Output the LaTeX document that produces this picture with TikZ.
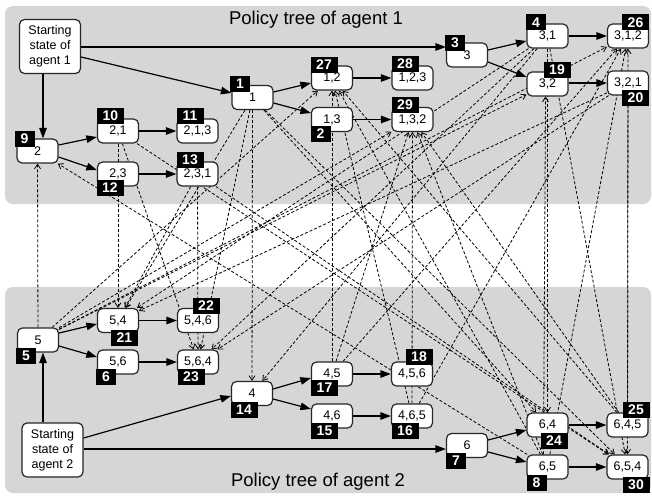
\documentclass[tikz,border=0pt]{standalone}
\usepackage{fontspec}
\setmainfont{Liberation Sans}
\usetikzlibrary{arrows.meta}
\pgfdeclarelayer{panel}
\pgfdeclarelayer{links}
\pgfsetlayers{panel,links,main}
\definecolor{panelgray}{RGB}{214,214,214}
\tikzset{
  st/.style={draw=black!85, fill=white, rounded corners=5pt, minimum width=41pt, minimum height=24pt, inner sep=0pt, line width=1.2pt, font=\fontsize{12.5}{14}\selectfont},
  startbox/.style={st, minimum width=61pt, minimum height=54pt, align=center, font=\fontsize{12.5}{15}\selectfont},
  tag/.style={fill=black, text=white, font=\fontsize{14}{14}\selectfont\bfseries, inner sep=0pt, minimum height=16pt, minimum width=27pt},
  tagone/.style={tag, minimum width=20pt},
  sol/.style={line width=1.2pt, -{Triangle[length=10.5pt,width=7.5pt]}},
  dep/.style={line width=0.8pt, dash pattern=on 3pt off 2pt, -{Straight Barb[length=4.5pt,width=6pt]}},
  panelbox/.style={fill=panelgray, rounded corners=8pt},
  ttl/.style={font=\fontsize{18.5}{20}\selectfont, anchor=base}
}
\begin{document}
\begin{tikzpicture}[x=1pt,y=-1pt]
\useasboundingbox (0,0) rectangle (652,495);
% ---------- agent 1 ----------
\node[startbox] (start1) at (50,46.5) {Starting\\state of\\agent 1};
\node[st] (n1)  at (252.5,97.5) {1};
\node[st] (n9)  at (37.5,151) {2};
\node[st] (n10) at (118,131) {2,1};
\node[st] (n11) at (197.5,131) {2,1,3};
\node[st] (n12) at (118,174) {2,3};
\node[st] (n13) at (197.5,174) {2,3,1};
\node[st] (n27) at (332,78) {1,2};
\node[st] (n2)  at (332,119.5) {1,3};
\node[st] (n28) at (412.5,78) {1,2,3};
\node[st] (n29) at (412.5,119.5) {1,3,2};
\node[st] (n3)  at (467,55) {3};
\node[st] (n4)  at (547.5,36) {3,1};
\node[st] (n19) at (547.5,84) {3,2};
\node[st] (n26) at (628,36) {3,1,2};
\node[st] (n20) at (628,83) {3,2,1};
% ---------- agent 2 ----------
\node[startbox] (start2) at (52.5,450) {Starting\\state of\\agent 2};
\node[st] (n5)  at (38,340) {5};
\node[st] (n21) at (118,320.5) {5,4};
\node[st] (n6)  at (118,362) {5,6};
\node[st] (n22) at (198,320.5) {5,4,6};
\node[st] (n23) at (198,362) {5,6,4};
\node[st] (n14) at (252,393.5) {4};
\node[st] (n17) at (332,374) {4,5};
\node[st] (n15) at (332,416) {4,6};
\node[st] (n18) at (412,374) {4,5,6};
\node[st] (n16) at (412,416) {4,6,5};
\node[st] (n7)  at (467,445.5) {6};
\node[st] (n24) at (547.5,425) {6,4};
\node[st] (n8)  at (547.5,467) {6,5};
\node[st] (n25) at (627.5,425) {6,4,5};
\node[st] (n30) at (627.5,467) {6,5,4};
% ---------- tags ----------
\node[tagone] (t1)  at (240,84) {1};
\node[tagone] (t9)  at (24.5,138.5) {9};
\node[tag] (t10) at (110.5,116) {10};
\node[tag] (t11) at (190,116) {11};
\node[tag] (t12) at (110,187.5) {12};
\node[tag] (t13) at (190,159.5) {13};
\node[tag] (t27) at (324,64.5) {27};
\node[tagone] (t2)  at (320.5,134) {2};
\node[tag] (t28) at (405,63.5) {28};
\node[tag] (t29) at (405,105) {29};
\node[tagone] (t3)  at (455,43) {3};
\node[tagone] (t4)  at (536,22.5) {4};
\node[tag] (t19) at (557,70) {19};
\node[tag] (t26) at (635.5,22.5) {26};
\node[tag] (t20) at (635.5,98) {20};
\node[tagone] (t5)  at (26,355.5) {5};
\node[tag] (t21) at (124.5,337.5) {21};
\node[tagone] (t6)  at (106,377) {6};
\node[tag] (t22) at (206,305.5) {22};
\node[tag] (t23) at (191,377) {23};
\node[tag] (t14) at (244,409.5) {14};
\node[tag] (t17) at (324.5,388) {17};
\node[tag] (t15) at (324.5,431) {15};
\node[tag] (t18) at (419,357) {18};
\node[tag] (t16) at (405,431) {16};
\node[tagone] (t7)  at (456,461) {7};
\node[tag] (t24) at (554,441) {24};
\node[tagone] (t8)  at (536.5,482.5) {8};
\node[tag] (t25) at (636,409.5) {25};
\node[tag] (t30) at (636,484.5) {30};
% ---------- solid edges agent 1 ----------
\draw[sol] (start1.east |- 0,47) -- (n3.west |- 0,47);
\draw[sol] (start1.east |- 0,57) -- (n1.west |- 0,93);
\draw[sol] (start1.south -| 43,0) -- (n9.north -| 43,0);
\draw[sol] (n9.east |- 0,145) -- (n10.west |- 0,137);
\draw[sol] (n9.east |- 0,157) -- (n12.west |- 0,170);
\draw[sol] (n10) -- (n11);
\draw[sol] (n12) -- (n13);
\draw[sol] (n1.east |- 0,92) -- (n27.west |- 0,83);
\draw[sol] (n1.east |- 0,103) -- (n2.west |- 0,113);
\draw[sol] (n27) -- (n28);
\draw[sol] (n2) -- (n29);
\draw[sol] (n3.east |- 0,50) -- (n4.west |- 0,41);
\draw[sol] (n3.east |- 0,62) -- (n19.west |- 0,77);
\draw[sol] (n4) -- (n26);
\draw[sol] (n19.east |- 0,83) -- (n20.west |- 0,83);
% ---------- solid edges agent 2 ----------
\draw[sol] (start2.north -| 43,0) -- (n5.south -| 43,0);
\draw[sol] (start2.east |- 0,438) -- (n14.west |- 0,396);
\draw[sol] (start2.east |- 0,449) -- (n7.west |- 0,449);
\draw[sol] (n5.east |- 0,333) -- (n21.west |- 0,324);
\draw[sol] (n5.east |- 0,346) -- (n6.west |- 0,357);
\draw[sol] (n21) -- (n22);
\draw[sol] (n6) -- (n23);
\draw[sol] (n14.east |- 0,389) -- (n17.west |- 0,378);
\draw[sol] (n14.east |- 0,399) -- (n15.west |- 0,409);
\draw[sol] (n17) -- (n18);
\draw[sol] (n15) -- (n16);
\draw[sol] (n7.east |- 0,440) -- (n24.west |- 0,430);
\draw[sol] (n7.east |- 0,452) -- (n8.west |- 0,462);
\draw[sol] (n24) -- (n25);
\draw[sol] (n8) -- (n30);
% ---------- dependency links ----------
\begin{pgfonlayer}{links}
\foreach \s/\t in {n1/n14, n4/n14,
  n1/n21, n10/n21, n4/n21, n13/n21, n20/n21,
  n1/n24, n4/n24,
  n1/n23, n10/n23, n4/n23, n13/n23, n20/n23,
  n1/n30, n10/n30, n4/n30, n13/n30, n20/n30,
  n5/n9, n8/n9,
  n5/n27, n8/n27, n17/n27, n16/n27, n25/n27,
  n5/n19,
  n5/n29, n8/n29, n17/n29, n16/n29, n25/n29,
  n5/n26, n8/n26, n17/n26, n16/n26, n25/n26}
  \draw[dep] (\s) -- (\t);
\draw[dep] ([xshift=-4pt]n8.north) -- ([xshift=-2pt]n19.south);
\end{pgfonlayer}
% ---------- panels ----------
\begin{pgfonlayer}{panel}
\fill[panelbox] (5,6) rectangle (651,204);
\fill[panelbox] (5,287) rectangle (651,493);
\node[ttl] (title1) at (316,25) {Policy tree of agent 1};
\node[ttl] (title2) at (318,486) {Policy tree of agent 2};
\end{pgfonlayer}
\end{tikzpicture}
\end{document}
